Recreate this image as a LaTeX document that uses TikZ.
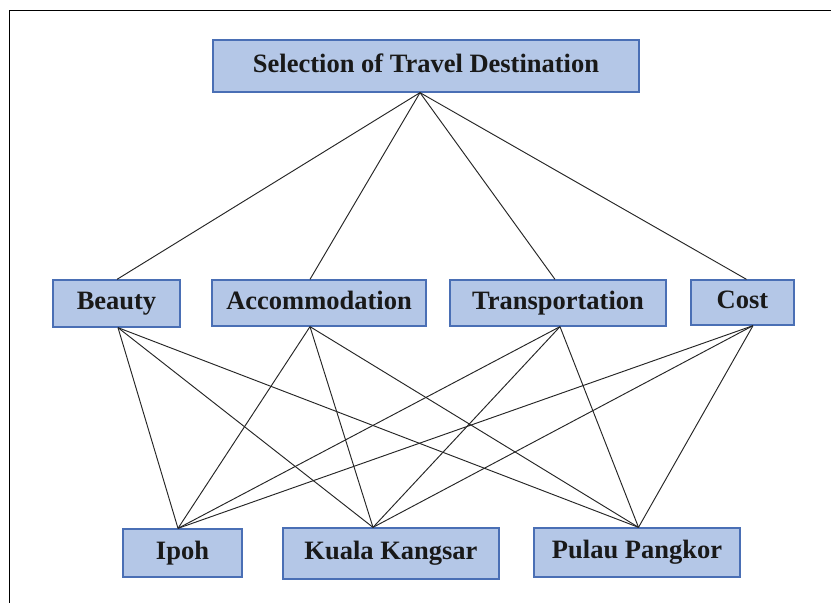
\documentclass[tikz,border=0pt]{standalone}
\usepackage{fontspec}
\setmainfont{Liberation Serif}
\usetikzlibrary{calc}
\definecolor{boxfill}{HTML}{B4C7E7}
\definecolor{boxline}{HTML}{4A6FB5}
\tikzset{
  box/.style={draw=boxline, line width=1.3pt, fill=boxfill, inner sep=0pt,
    font=\fontsize{26.5}{29}\selectfont\bfseries, text=black!90,
    text height=18.5pt, text depth=6.5pt},
  link/.style={draw=black!85, line width=0.95pt}
}
\begin{document}
\begin{tikzpicture}[x=1pt,y=-1pt]
\useasboundingbox (0,0) rectangle (831,603);
% frame (top and left)
\draw[line width=1.5pt] (831,10.5) -- (9.5,10.5) -- (9.5,603);

\node[box, minimum width=426pt, minimum height=52pt] (title) at (426,66) {Selection of Travel Destination};

\node[box, minimum width=127pt, minimum height=47pt] (beauty) at (116.5,303.5) {Beauty};
\node[box, minimum width=214pt, minimum height=46pt] (accom) at (319,303) {Accommodation};
\node[box, minimum width=216pt, minimum height=46pt] (trans) at (558,303) {Transportation};
\node[box, minimum width=103pt, minimum height=45pt] (cost) at (742.5,302.5) {Cost};

\node[box, minimum width=119pt, minimum height=48pt] (ipoh) at (182.5,553) {Ipoh};
\node[box, minimum width=216pt, minimum height=51pt] (kuala) at (391,553.5) {Kuala Kangsar};
\node[box, minimum width=206pt, minimum height=49pt] (pangkor) at (637,552.5) {Pulau Pangkor};

% connection points
\coordinate (tS) at ($(title.south)+(-6,0)$);
\coordinate (bN) at ($(beauty.north)+(0.5,0)$);
\coordinate (bS) at ($(beauty.south)+(1.5,0)$);
\coordinate (aN) at ($(accom.north)+(-9,0)$);
\coordinate (aS) at ($(accom.south)+(-9,0)$);
\coordinate (rN) at ($(trans.north)+(-3,0)$);
\coordinate (rS) at ($(trans.south)+(2,0)$);
\coordinate (cN) at ($(cost.north)+(4,0)$);
\coordinate (cS) at ($(cost.south)+(10.5,0)$);
\coordinate (iN) at ($(ipoh.north)+(-4.5,0)$);
\coordinate (kN) at ($(kuala.north)+(-18,0)$);
\coordinate (pN) at ($(pangkor.north)+(1.5,0)$);

\foreach \c in {bN,aN,rN,cN} \draw[link] (tS) -- (\c);
\foreach \c in {bS,aS,rS,cS}
  \foreach \a in {iN,kN,pN}
    \draw[link] (\c) -- (\a);
\end{tikzpicture}
\end{document}
